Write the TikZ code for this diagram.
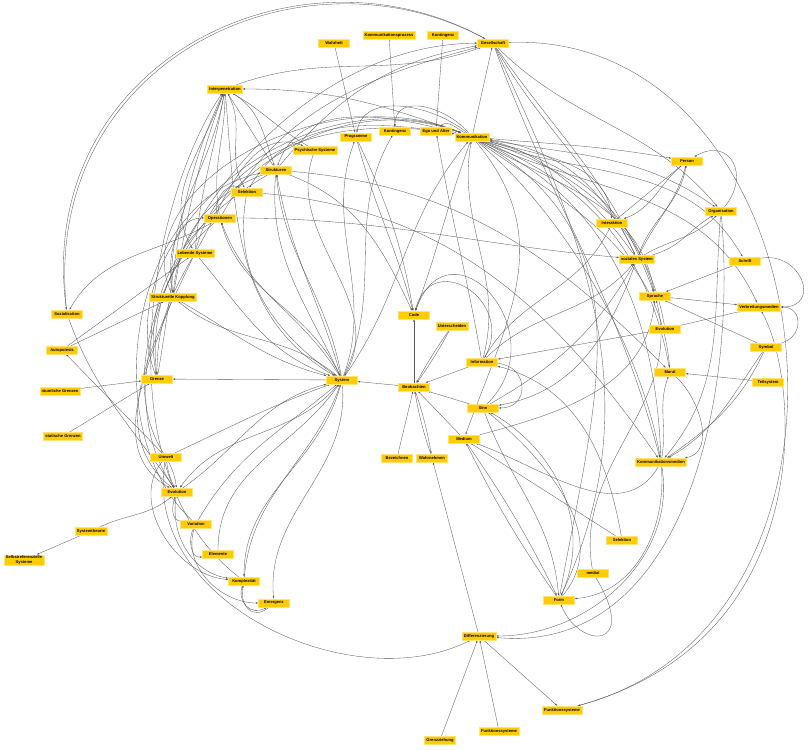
\documentclass[tikz,border=0pt]{standalone}
\usepackage{fontspec}
\setmainfont{Liberation Sans}
\usetikzlibrary{arrows.meta,backgrounds}
\definecolor{gold}{HTML}{FFCC00}
\definecolor{wire}{HTML}{585858}

\begin{document}
\begin{tikzpicture}[x=1pt,y=1pt,
  every node/.style={font=\fontsize{4.1}{4.7}\selectfont\bfseries},
  concept/.style={fill=gold, draw=gold!55!white, line width=0.4pt,
              minimum width=31pt, minimum height=8pt,
              inner xsep=1.8pt, inner ysep=1pt, align=center, text=black},
  arr/.style={-{Latex[length=2.4pt,width=1.7pt]}, wire, line width=0.33pt}
]
\useasboundingbox (0,0) rectangle (809,-750);

% concepts, top
\node[concept] (gesellschaft) at (493,-43) {Gesellschaft};
\node[concept] (wahrheit) at (334,-43) {Wahrheit};
\node[concept] (kprozess) at (389,-35) {Kommunikationsprozess};
\node[concept] (kontingenzA) at (443,-35) {Kontingenz};
\node[concept] (interpenetration) at (225,-89) {Interpenetration};
\node[concept] (programme) at (356,-137) {Programme};
\node[concept] (kontingenzB) at (395,-131) {Kontingenz};
\node[concept] (egoalter) at (436,-131) {Ego und Alter};
\node[concept] (kommunikation) at (472,-137) {Kommunikation};
\node[concept] (psychisch) at (315,-150) {Psychische Systeme};
\node[concept] (strukturen) at (276,-170) {Strukturen};
\node[concept] (person) at (687,-161) {Person};
\node[concept] (selektionA) at (247,-192) {Selektion};
\node[concept] (operationen) at (220,-218) {Operationen};
\node[concept] (interaktion) at (612,-223) {Interaktion};
\node[concept] (organisation) at (721,-211) {Organisation};
% middle
\node[concept] (lebend) at (195,-253) {Lebende Systeme};
\node[concept] (sozial) at (637,-259) {soziales System};
\node[concept] (schrift) at (745,-261) {Schrift};
\node[concept] (kopplung) at (173,-297) {Strukturelle Kopplung};
\node[concept] (sprache) at (655,-296) {Sprache};
\node[concept] (verbreitung) at (759,-307) {Verbreitungsmedien};
\node[concept] (sozialisation) at (67,-314) {Sozialisation};
\node[concept] (code) at (414,-315) {Code};
\node[concept] (unterscheiden) at (452,-326) {Unterscheiden};
\node[concept] (evolutionB) at (665,-329) {Evolution};
\node[concept] (autopoiesis) at (62,-350) {Autopoiesis};
\node[concept] (information) at (482,-362) {Information};
\node[concept] (symbol) at (766,-347) {Symbol};
\node[concept] (moral) at (670,-372) {Moral};
\node[concept] (teilsystem) at (768,-382) {Teilsystem};
\node[concept] (grenze) at (157,-379) {Grenze};
\node[concept] (system) at (342,-380) {System};
\node[concept] (beobachten) at (414,-387) {Beobachten};
\node[concept] (raeumlich) at (60,-391) {räumliche Grenzen};
\node[concept] (sinn) at (483,-408) {Sinn};
\node[concept] (medium) at (464,-439) {Medium};
\node[concept] (statisch) at (63,-436) {statische Grenzen};
% lower
\node[concept] (umwelt) at (166,-457) {Umwelt};
\node[concept] (bezeichnen) at (397,-458) {Bezeichnen};
\node[concept] (wahrnehmen) at (432,-458) {Wahrnehmen};
\node[concept] (kmedien) at (661,-462) {Kommunikationsmedien};
\node[concept] (evolutionA) at (177,-492) {Evolution};
\node[concept] (variation) at (196,-524) {Variation};
\node[concept] (systemtheorie) at (91,-531) {Systemtheorie};
\node[concept, minimum width=37pt] (selbstref) at (24,-560) {Selbstreferenzielle\\Systeme};
\node[concept] (selektionB) at (622,-540) {Selektion};
\node[concept] (elemente) at (218,-554) {Elemente};
\node[concept] (medial) at (593,-573) {medial};
\node[concept] (komplex) at (244,-581) {Komplexität};
\node[concept] (form) at (559,-600) {Form};
\node[concept] (emergenz) at (274,-603) {Emergenz};
\node[concept] (differenzierung) at (479,-636) {Differenzierung};
\node[concept] (funktionA) at (562,-710) {Funktionssysteme};
\node[concept] (funktionB) at (499,-731) {Funktionssysteme};
\node[concept] (grenzziehung) at (440,-740) {Grenzziehung};

\begin{pgfonlayer}{background}
\fill[white] (0,0) rectangle (809,-750);
% top row
\draw[arr] (wahrheit) -- (programme);
\draw[arr] (kprozess) -- (kontingenzB);
\draw[arr] (kontingenzA) -- (egoalter);
\draw[arr] (kommunikation) -- (gesellschaft);
% outer arcs
\draw[arr] (sozialisation) .. controls (40,-60) and (300,60) .. (gesellschaft);
\draw[arr] (gesellschaft) .. controls (296,66) and (34,-64) .. (sozialisation);
\draw[arr] (gesellschaft) .. controls (830,-30) and (900,-620) .. (funktionA);
\draw[arr] (funktionA) .. controls (820,-640) and (800,-380) .. (verbreitung);
% Kommunikation, right fan
\draw[arr] (kommunikation) to[out=-5,in=170] (person);
\draw[arr] (kommunikation) to[out=-10,in=145] (organisation);
\draw[arr] (kommunikation) to[out=-15,in=95] (interaktion);
\draw[arr] (kommunikation) to[out=-20,in=120] (schrift);
\draw[arr] (kommunikation) to[out=-25,in=115] (verbreitung);
\draw[arr] (kommunikation) to[out=-30,in=100] (sprache);
\draw[arr] (kommunikation) to[out=-35,in=95] (moral);
\draw[arr] (kommunikation) to[out=-40,in=100,looseness=0.8] (kmedien);
\draw[arr] (kommunikation) to[out=-50,in=70,looseness=1.1] (medium);
\draw[arr] (sozial) to[out=115,in=-8] (kommunikation);
\draw[arr] (sozial) to[out=125,in=-12,looseness=0.8] (kommunikation);
\draw[arr] (sprache) to[out=105,in=-15] (kommunikation);
\draw[arr] (evolutionB) to[out=100,in=-18] (kommunikation);
\draw[arr] (moral) to[out=100,in=-22] (kommunikation);
\draw[arr] (kmedien) to[out=92,in=-25] (kommunikation);
\draw[arr] (form) to[out=80,in=-30,looseness=1.1] (kommunikation);
% Gesellschaft fan
\draw[arr] (gesellschaft) to[out=-60,in=115] (sozial);
\draw[arr] (gesellschaft) to[out=-55,in=110] (sprache);
\draw[arr] (gesellschaft) to[out=-45,in=130] (organisation);
\draw[arr] (gesellschaft) to[out=-70,in=105] (kmedien);
\draw[arr] (gesellschaft) to[out=-65,in=65] (form);
\draw[arr] (strukturen) to[out=50,in=-170] (gesellschaft);
\draw[arr] (operationen) to[out=60,in=-165] (gesellschaft);
\draw[arr] (interpenetration) to[out=20,in=-160] (gesellschaft);
% Kommunikation, left side
\draw[arr] (kommunikation) to[out=160,in=0] (interpenetration);
\draw[arr] (kommunikation) to[out=130,in=90,looseness=1.2] (kontingenzB);
\draw[arr] (kommunikation) to[out=140,in=80] (programme);
\draw[arr] (kommunikation) to[out=150,in=45] (egoalter);
\draw[arr] (kommunikation) to[out=165,in=70] (strukturen);
\draw[arr] (kommunikation) to[out=170,in=60] (selektionA);
\draw[arr] (kommunikation) to[out=-110,in=70] (code);
\draw[arr] (system) to[out=55,in=-130] (kommunikation);
\draw[arr] (system) to[out=70,in=-110] (programme);
\draw[arr] (system) to[out=65,in=-120] (kontingenzB);
\draw[arr] (information) to[out=100,in=-80] (egoalter);
\draw[arr] (kopplung) .. controls (125,-190) and (320,-75) .. (kommunikation);
\draw[arr] (grenze) .. controls (105,-240) and (300,-70) .. (kommunikation);
\draw[arr] (umwelt) .. controls (85,-330) and (260,-60) .. (kommunikation);
\draw[arr] (evolutionA) .. controls (75,-350) and (250,-45) .. (gesellschaft);
\draw[arr] (lebend) to[out=75,in=170] (kommunikation);
\draw[arr] (komplex) .. controls (100,-470) and (150,-200) .. (interpenetration);
\draw[arr] (variation) .. controls (95,-430) and (130,-200) .. (strukturen);
% Interpenetration
\draw[arr] (psychisch) to[out=150,in=-30] (interpenetration);
\draw[arr] (lebend) to[out=60,in=160] (psychisch);
\draw[arr] (psychisch) to[out=-110,in=60] (system);
\draw[arr] (strukturen) -- (interpenetration);
\draw[arr] (interpenetration) to[out=-60,in=120] (selektionA);
\draw[arr] (interpenetration) to[out=-30,in=110] (strukturen);
\draw[arr] (kopplung) to[out=80,in=-110] (interpenetration);
\draw[arr] (lebend) to[out=85,in=-100] (interpenetration);
\draw[arr] (grenze) to[out=80,in=-115] (interpenetration);
\draw[arr] (operationen) to[out=100,in=-90] (interpenetration);
% System
\draw[arr] (beobachten) -- (system);
\draw[arr] (system) -- (grenze);
\draw[arr] (system) to[out=100,in=-85] (strukturen);
\draw[arr] (system) to[out=106,in=-80] (strukturen);
\draw[arr] (strukturen) to[out=-95,in=115] (system);
\draw[arr] (system) to[out=115,in=-75] (operationen);
\draw[arr] (system) to[out=121,in=-70] (operationen);
\draw[arr] (system) to[out=140,in=-40] (kopplung);
\draw[arr] (system) to[out=-130,in=55] (evolutionA);
\draw[arr] (system) to[out=-105,in=90] (komplex);
\draw[arr] (system) to[out=-85,in=95] (emergenz);
\draw[arr] (interpenetration) to[out=-85,in=150] (system);
\draw[arr] (selektionA) to[out=-100,in=145] (system);
\draw[arr] (lebend) to[out=-50,in=160] (system);
\draw[arr] (kopplung) to[out=-30,in=165] (system);
\draw[arr] (umwelt) to[out=25,in=-160] (system);
\draw[arr] (evolutionA) to[out=35,in=-165] (system);
\draw[arr] (variation) to[out=60,in=-140] (system);
\draw[arr] (elemente) to[out=90,in=-125] (system);
\draw[arr] (komplex) to[out=85,in=-110] (system);
% Grenze and left cluster
\draw[arr] (strukturen) to[out=-150,in=100] (grenze);
\draw[arr] (operationen) to[out=-140,in=95] (grenze);
\draw[arr] (lebend) to[out=-120,in=90] (grenze);
\draw[arr] (raeumlich) -- (grenze);
\draw[arr] (statisch) -- (grenze);
\draw[arr] (strukturen) to[out=-160,in=85] (kopplung);
\draw[arr] (interpenetration) to[out=-100,in=95] (kopplung);
\draw[arr] (autopoiesis) -- (kopplung);
\draw[arr] (autopoiesis) -- (lebend);
\draw[arr] (umwelt) -- (autopoiesis);
\draw[arr] (operationen) to[out=-150,in=60] (sozialisation);
\draw[arr] (sozialisation) to[out=-70,in=125] (evolutionA);
\draw[arr] (interpenetration) to[out=-110,in=120] (lebend);
\draw[arr] (kopplung) to[out=100,in=180] (operationen);
\draw[arr] (operationen) to[out=120,in=150] (selektionA);
\draw[arr] (strukturen) to[out=-5,in=135] (moral);
\draw[arr] (selektionA) to[out=-5,in=125] (kmedien);
\draw[arr] (operationen) to[out=0,in=175] (sozial);
\draw[arr] (kopplung) to[out=-110,in=150] (evolutionA);
\draw[arr] (lebend) to[out=-115,in=140] (evolutionA);
% lower left
\draw[arr] (umwelt) to[bend left=10] (evolutionA);
\draw[arr] (umwelt) to[bend right=10] (evolutionA);
\draw[arr] (variation) to[out=170,in=-110] (evolutionA);
\draw[arr] (systemtheorie) -- (selbstref);
\draw[arr] (systemtheorie) to[out=25,in=-140] (evolutionA);
\draw[arr] (variation) to[out=-120,in=-170] (elemente);
\draw[arr] (evolutionA) to[out=-100,in=170] (komplex);
\draw[arr] (umwelt) to[out=-130,in=175] (komplex);
\draw[arr] (variation) to[out=-110,in=180] (emergenz);
\draw[arr] (komplex) to[out=-110,in=-150,looseness=1.4] (emergenz);
\draw[arr] (emergenz) to[out=-140,in=-100,looseness=1.6] (komplex);
\draw[arr] (umwelt) .. controls (140,-600) and (350,-700) .. (differenzierung);
% Code and Beobachten
\draw[arr] (beobachten) -- (code);
\draw[arr] (programme) to[out=-65,in=100] (code);
\draw[arr] (programme) to[out=-75,in=105] (code);
\draw[arr] (strukturen) to[out=-20,in=115] (code);
\draw[arr] (information) to[out=60,in=75,looseness=2] (code);
\draw[arr] (sinn) to[out=45,in=70,looseness=2.2] (code);
\draw[arr] (unterscheiden) to[bend left=3] (beobachten);
\draw[arr] (unterscheiden) to[bend right=3] (beobachten);
\draw[arr] (information) -- (beobachten);
\draw[arr] (sinn) -- (beobachten);
\draw[arr] (medium) -- (beobachten);
\draw[arr] (bezeichnen) -- (beobachten);
\draw[arr] (beobachten) to[bend left=4] (wahrnehmen);
\draw[arr] (wahrnehmen) to[bend left=4] (beobachten);
\draw[arr] (differenzierung) -- (wahrnehmen);
% Information, Sinn, Medium, Form
\draw[arr] (evolutionB) -- (information);
\draw[arr] (information) to[out=45,in=-130] (sozial);
\draw[arr] (information) to[out=75,in=-100] (kommunikation);
\draw[arr] (selektionB) to[out=100,in=-15] (information);
\draw[arr] (information) to[out=-5,in=0,looseness=1.8] (sinn);
\draw[arr] (sinn) to[out=30,in=-120] (sozial);
\draw[arr] (sozial) to[out=-110,in=10] (sinn);
\draw[arr] (medium) to[out=15,in=-95] (sprache);
\draw[arr] (interaktion) to[out=-115,in=60] (information);
\draw[arr] (form) to[out=50,in=-40] (sinn);
\draw[arr] (form) to[out=65,in=-30] (sinn);
\draw[arr] (sinn) to[out=-70,in=95] (form);
\draw[arr] (selektionB) -- (medium);
\draw[arr] (form) to[bend left=4] (medium);
\draw[arr] (medium) to[bend left=4] (form);
\draw[arr] (kmedien) to[out=-120,in=-20] (medium);
\draw[arr] (medial) .. controls (640,-650) and (580,-650) .. (form);
\draw[arr] (medial) to[out=100,in=-75] (sprache);
\draw[arr] (kmedien) to[out=-85,in=5] (form);
\draw[arr] (kmedien) to[out=-80,in=0] (differenzierung);
\draw[arr] (organisation) to[out=-85,in=-5] (differenzierung);
\draw[arr] (grenzziehung) -- (differenzierung);
\draw[arr] (funktionB) -- (differenzierung);
\draw[arr] (differenzierung) -- (funktionA);
% Person, Organisation, Sprache
\draw[arr] (sozial) to[out=70,in=-100] (person);
\draw[arr] (sozial) to[out=64,in=-105] (person);
\draw[arr] (interaktion) -- (person);
\draw[arr] (person) to[out=-140,in=20] (interaktion);
\draw[arr] (sozial) to[out=30,in=-135] (organisation);
\draw[arr] (sozial) to[out=15,in=-150] (organisation);
\draw[arr] (organisation) to[out=50,in=30,looseness=1.8] (person);
\draw[arr] (schrift) -- (sprache);
\draw[arr] (schrift) to[out=10,in=0,looseness=2] (verbreitung);
\draw[arr] (sprache) -- (verbreitung);
\draw[arr] (evolutionB) -- (verbreitung);
\draw[arr] (symbol) -- (sprache);
\draw[arr] (symbol) to[out=-115,in=35] (kmedien);
\draw[arr] (symbol) to[out=-125,in=30] (kmedien);
\draw[arr] (symbol) to[out=15,in=0,looseness=1.6] (verbreitung);
\draw[arr] (teilsystem) -- (moral);
\draw[arr] (moral) to[out=-40,in=10] (kmedien);
\draw[arr] (kmedien) to[out=80,in=-110] (moral);
\draw[arr] (organisation) to[out=-95,in=50] (kmedien);
\end{pgfonlayer}
\end{tikzpicture}
\end{document}
